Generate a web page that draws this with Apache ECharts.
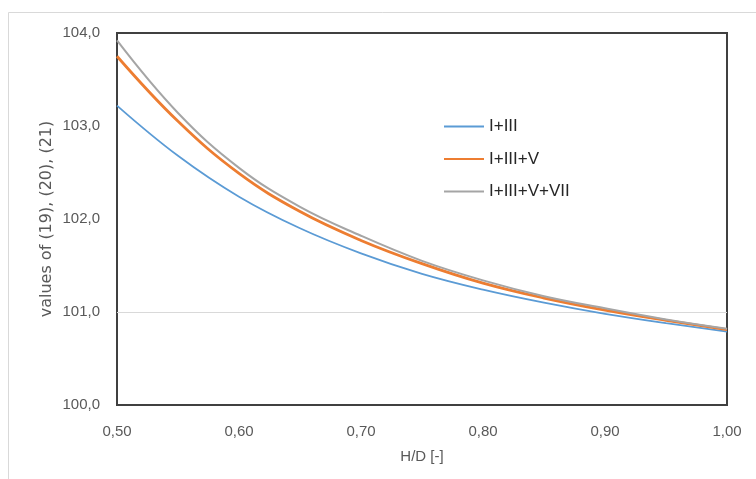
<!DOCTYPE html>
<html>
<head>
<meta charset="utf-8">
<script src="https://cdn.jsdelivr.net/npm/echarts@6/dist/echarts.min.js"></script>
<style>html,body{margin:0;padding:0;background:#fff;}#c{width:756px;height:479px;}</style>
</head>
<body>
<div id="c"></div>
<script>
const hd = [0.50, 0.55, 0.60, 0.65, 0.70, 0.75, 0.80, 0.85, 0.90, 0.95, 1.00];
const s1Name = 'I+III';
const s1 = [103.22, 102.68, 102.24, 101.90, 101.63, 101.41, 101.24, 101.10, 100.98, 100.88, 100.79];
const s2Name = 'I+III+V';
const s2 = [103.75, 103.05, 102.49, 102.08, 101.77, 101.52, 101.31, 101.15, 101.02, 100.91, 100.81];
const s3Name = 'I+III+V+VII';
const s3 = [103.92, 103.14, 102.55, 102.13, 101.82, 101.55, 101.34, 101.17, 101.04, 100.92, 100.82];
const yTicks = [100, 101, 102, 103, 104];
const xTicks = [0.5, 0.6, 0.7, 0.8, 0.9, 1.0];

const pairs = a => hd.map((x, i) => [x, a[i]]);
const FONT = 'Liberation Sans, Arial, sans-serif';
const chart = echarts.init(document.getElementById('c'), null, {renderer: 'canvas'});
chart.setOption({
  animation: false,
  backgroundColor: '#fff',
  graphic: [{
    type: 'rect', silent: true,
    shape: {x: 8.5, y: 12.5, width: 800, height: 500},
    style: {fill: 'none', stroke: '#d9d9d9', lineWidth: 1}
  }],
  grid: {left: 117, right: 29, top: 33, bottom: 74, show: true, borderColor: '#404040', borderWidth: 2, backgroundColor: 'transparent'},
  legend: {
    orient: 'vertical', left: 438, top: 113, itemWidth: 40, itemHeight: 14, itemGap: 15.5,
    itemStyle: {opacity: 0, color: 'transparent', borderWidth: 0},
    textStyle: {fontFamily: FONT, fontSize: 17, color: '#262626'},
    data: [s1Name, s2Name, s3Name]
  },
  xAxis: {
    type: 'value', min: xTicks[0], max: xTicks[xTicks.length - 1], interval: 0.1,
    name: 'H/D [-]', nameLocation: 'middle', nameGap: 44,
    nameTextStyle: {fontFamily: FONT, fontSize: 15, color: '#595959'},
    axisLine: {show: false}, axisTick: {show: false}, splitLine: {show: false},
    axisLabel: {margin: 19, fontFamily: FONT, fontSize: 15, color: '#595959',
      formatter: v => v.toFixed(2).replace('.', ',')}
  },
  yAxis: {
    type: 'value', min: yTicks[0], max: yTicks[yTicks.length - 1], interval: 1,
    name: 'values of (19), (20), (21)', nameLocation: 'middle', nameGap: 62, nameMoveOverlap: false,
    nameTextStyle: {fontFamily: 'DejaVu Sans, sans-serif', fontSize: 16, color: '#595959'},
    axisLine: {show: false}, axisTick: {show: false},
    splitLine: {show: true, lineStyle: {color: ['transparent', '#d9d9d9', 'transparent', 'transparent', 'transparent'], width: 1}},
    axisLabel: {margin: 17, fontFamily: FONT, fontSize: 15, color: '#595959',
      formatter: v => v.toFixed(1).replace('.', ',')}
  },
  series: [
    {name: s1Name, type: 'line', data: pairs(s1), smooth: 0.4, showSymbol: false, symbol: 'none',
     lineStyle: {color: '#5B9BD5', width: 1.75}, itemStyle: {color: '#5B9BD5'}},
    {name: s2Name, type: 'line', data: pairs(s2), smooth: 0.4, showSymbol: false, symbol: 'none',
     lineStyle: {color: '#ED7D31', width: 2.75}, itemStyle: {color: '#ED7D31'}},
    {name: s3Name, type: 'line', data: pairs(s3), smooth: 0.4, showSymbol: false, symbol: 'none',
     lineStyle: {color: '#A5A5A5', width: 2}, itemStyle: {color: '#A5A5A5'}}
  ]
});
</script>
</body>
</html>
